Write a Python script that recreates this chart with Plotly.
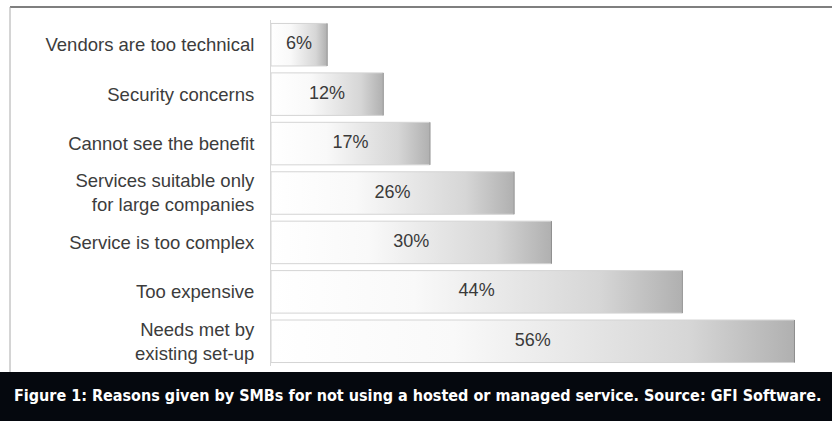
import plotly.graph_objects as go

categories = [
    "Vendors are too technical",
    "Security concerns",
    "Cannot see the benefit",
    "Services suitable only<br>for large companies",
    "Service is too complex",
    "Too expensive",
    "Needs met by<br>existing set-up",
]
values = [6, 12, 17, 26, 30, 44, 56]
value_labels = [f"{v}%" for v in values]
caption = "Figure 1: Reasons given by SMBs for not using a hosted or managed service. Source: GFI Software."

W, H = 832, 421
ml, mr, mt, mb = 271, 17, 20, 55
pw, ph = W - ml - mr, H - mt - mb
half = 0.43

fig = go.Figure()
for i, (c, v) in enumerate(zip(categories, values)):
    fig.add_trace(go.Scatter(
        x=[0, v, v, 0, 0],
        y=[i - half, i - half, i + half, i + half, i - half],
        mode="lines",
        fill="toself",
        fillgradient=dict(
            type="horizontal",
            colorscale=[[0, "#ffffff"], [0.35, "#f9f9f9"], [0.8, "#d6d6d6"], [1, "#b0b0b0"]],
        ),
        line=dict(color="#d4d4d4", width=1),
        hoverinfo="skip",
        showlegend=False,
    ))
    fig.add_trace(go.Scatter(
        x=[v, v], y=[i - half, i + half], mode="lines",
        line=dict(color="#8a8a8a", width=1),
        hoverinfo="skip", showlegend=False,
    ))

fig.add_trace(go.Scatter(
    x=[v / 2 for v in values],
    y=list(range(len(values))),
    mode="text",
    text=value_labels,
    textfont=dict(family="Liberation Sans, Arial", size=18, color="#3a3a3a"),
    textposition="middle center",
    hoverinfo="skip",
    showlegend=False,
))

fig.update_layout(
    width=W, height=H,
    margin=dict(l=ml, r=mr, t=mt, b=mb),
    paper_bgcolor="white",
    plot_bgcolor="white",
    xaxis=dict(range=[0, 58.2], visible=False, fixedrange=True),
    yaxis=dict(
        range=[len(values) - 0.5, -0.5],
        tickvals=list(range(len(values))),
        ticktext=categories,
        tickfont=dict(family="Liberation Sans, Arial", size=18.5, color="#3c3c3c"),
        showgrid=False, zeroline=False,
        showline=True, linecolor="#d8d8d8", linewidth=1,
        ticks="", ticklabelstandoff=12,
    ),
    shapes=[
        dict(type="rect", xref="paper", yref="paper",
             x0=(0 - ml) / pw, x1=(W - ml) / pw,
             y0=(H - mb - 372) / ph, y1=(H - mb - H) / ph,
             fillcolor="#05080e", line=dict(width=0), layer="above"),
        dict(type="line", xref="paper", yref="paper",
             x0=(10 - ml) / pw, x1=(W - ml) / pw,
             y0=(H - mb - 7) / ph, y1=(H - mb - 7) / ph,
             line=dict(color="#555555", width=1.5)),
        dict(type="line", xref="paper", yref="paper",
             x0=(10 - ml) / pw, x1=(10 - ml) / pw,
             y0=(H - mb - 7) / ph, y1=(H - mb - 372) / ph,
             line=dict(color="#aaaaaa", width=1)),
    ],
    annotations=[
        dict(text=caption, xref="paper", yref="paper",
             x=(12 - ml) / pw, y=(H - mb - 396) / ph,
             xanchor="left", yanchor="middle", showarrow=False,
             font=dict(family="DejaVu Sans Condensed", size=16, color="white", weight="bold")),
    ],
)

fig.write_html("out.html")
